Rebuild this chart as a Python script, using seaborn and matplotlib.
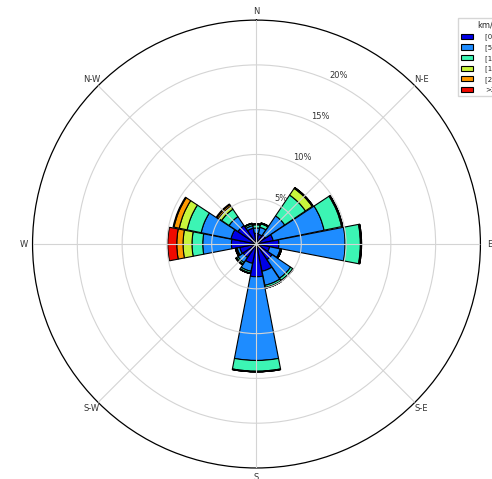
import numpy as np
import seaborn as sns
import matplotlib
matplotlib.use("Agg")
import matplotlib.pyplot as plt

# wind directions (16 sectors) and speed classes
directions = ["N", "NNE", "NE", "ENE", "E", "ESE", "SE", "SSE",
              "S", "SSW", "SW", "WSW", "W", "WNW", "NW", "NNW"]
speed_bins = ["[0 : 5)", "[5 : 10)", "[10 : 15)", "[15 : 20)", "[20 : 25)", ">25"]

# frequency (%) of each speed class per direction
bin_0_5   = [1.2, 1.1, 1.2, 1.9, 2.5, 1.5, 2.1, 3.1, 3.65, 2.2, 1.8, 1.9, 2.8, 2.9, 2.5, 1.8]
bin_5_10  = [0.6, 0.8, 2.6, 5.8, 7.4, 1.2, 2.5, 1.6, 9.35, 0.9, 0.7, 0.3, 3.2, 3.4, 1.2, 0.3]
bin_10_15 = [0.35, 0.4, 2.8, 2.0, 1.7, 0.1, 0.3, 0.25, 1.2, 0.2, 0.2, 0.1, 1.2, 1.6, 1.0, 0.2]
bin_15_20 = [0.05, 0.05, 0.9, 0.1, 0.1, 0.05, 0.05, 0.05, 0.05, 0.05, 0.07, 0.06, 1.0, 0.9, 0.4, 0.05]
bin_20_25 = [0.05, 0.05, 0.1, 0.03, 0.03, 0.0, 0.02, 0.02, 0.02, 0.02, 0.03, 0.04, 0.7, 0.6, 0.2, 0.02]
bin_25_up = [0.0, 0.0, 0.03, 0.0, 0.0, 0.0, 0.0, 0.0, 0.0, 0.0, 0.0, 0.02, 1.0, 0.1, 0.1, 0.0]

compass_labels = ["N", "N-E", "E", "S-E", "S", "S-W", "W", "N-W"]
radial_ticks = [5, 10, 15, 20]

sns.set_style("white")
colors = sns.color_palette(["#0000e6", "#1e8cff", "#3cf5b4", "#c8f53c", "#ff9a00", "#f00a00"])

fig = plt.figure(figsize=(4.92, 4.79), dpi=100)
ax = fig.add_axes([0.066, 0.023, 0.9106, 0.935], projection="polar")
ax.set_theta_zero_location("N")
ax.set_theta_direction(-1)

theta = np.deg2rad(np.arange(len(directions)) * 360 / len(directions))
width = np.deg2rad(360 / len(directions)) * 0.97
bottom = np.zeros(len(directions))
all_bins = [bin_0_5, bin_5_10, bin_10_15, bin_15_20, bin_20_25, bin_25_up]
for label, vals, color in zip(speed_bins, all_bins, colors):
    vals = np.array(vals)
    ax.bar(theta, vals, width=width, bottom=bottom, color=color,
           edgecolor="black", linewidth=0.8, label=label, zorder=1)
    bottom += vals

ax.set_axisbelow(False)
ax.set_ylim(0, 25)
ax.set_yticks(radial_ticks)
ax.set_yticklabels([f"{t}%" for t in radial_ticks], fontsize=6, color="#333333")
ax.set_rlabel_position(24)
ax.set_xticks(np.deg2rad(np.arange(0, 360, 45)))
ax.set_xticklabels(compass_labels, fontsize=6, color="#333333")
ax.tick_params(axis="x", pad=-4)
ax.grid(True, color="#d4d4d4", linewidth=0.8)
ax.spines["polar"].set_color("black")
ax.spines["polar"].set_linewidth(0.9)

fig.legend(loc="upper left", bbox_to_anchor=(458 / 492, 1 - 18 / 479),
           title="km/h", fontsize=5, title_fontsize=6,
           handlelength=1.7, handleheight=0.8, labelspacing=0.55,
           handletextpad=1.8, frameon=True, edgecolor="#cccccc",
           fancybox=False, borderaxespad=0)

fig.savefig("out.png", dpi=100)
